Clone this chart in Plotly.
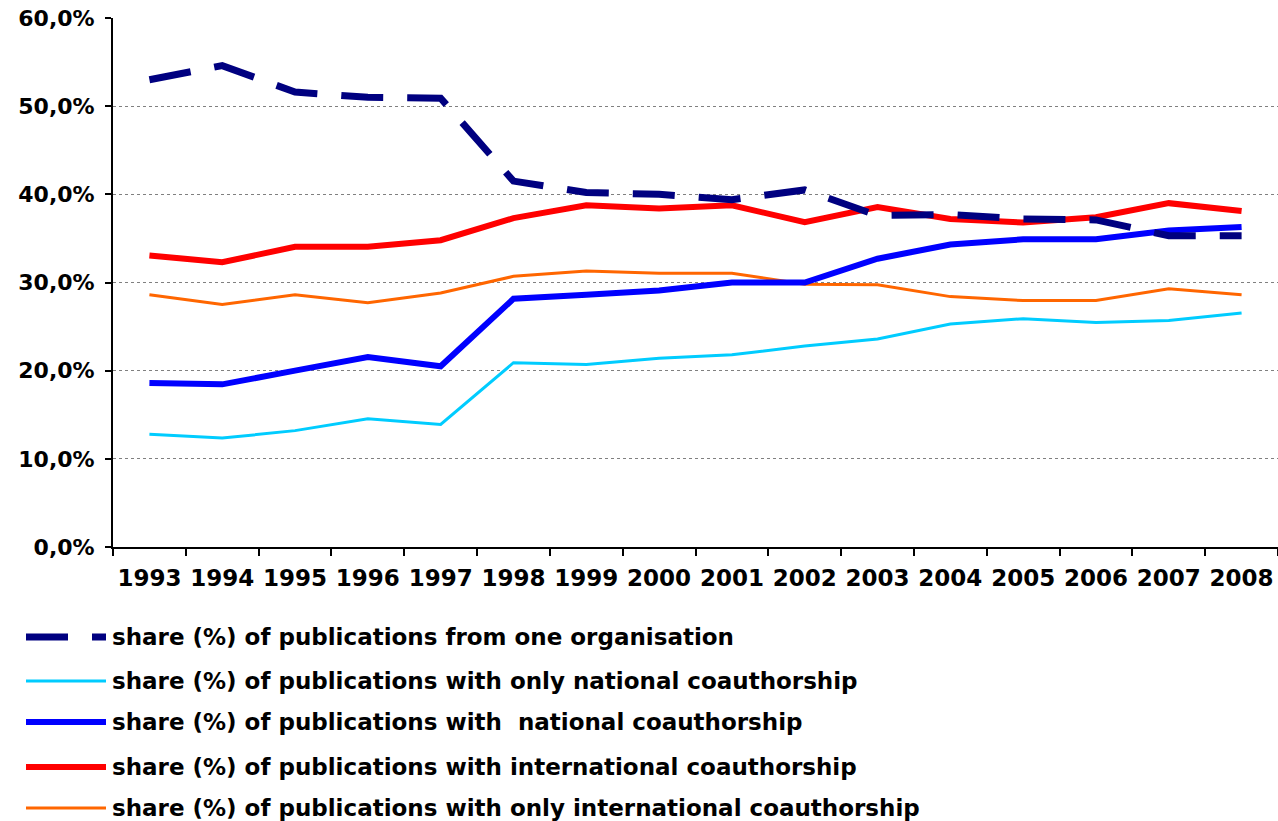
import plotly.graph_objects as go

years = ["1993", "1994", "1995", "1996", "1997", "1998", "1999", "2000",
         "2001", "2002", "2003", "2004", "2005", "2006", "2007", "2008"]

one_org = [53.0, 54.6, 51.6, 51.0, 50.9, 41.5, 40.2, 40.0, 39.4, 40.5, 37.6, 37.7, 37.2, 37.1, 35.3, 35.3]
only_national = [12.8, 12.35, 13.2, 14.55, 13.9, 20.9, 20.7, 21.4, 21.8, 22.8, 23.6, 25.3, 25.9, 25.45, 25.7, 26.55]
national = [18.6, 18.45, 20.0, 21.55, 20.5, 28.15, 28.6, 29.1, 30.0, 30.0, 32.7, 34.3, 34.9, 34.9, 35.9, 36.3]
international = [33.07, 32.3, 34.05, 34.05, 34.8, 37.3, 38.75, 38.4, 38.75, 36.85, 38.55, 37.2, 36.8, 37.4, 39.0, 38.1]
only_international = [28.6, 27.5, 28.6, 27.7, 28.8, 30.7, 31.3, 31.05, 31.05, 29.8, 29.75, 28.4, 27.95, 27.95, 29.3, 28.6]

names = [
    "share (%) of publications from one organisation",
    "share (%) of publications with only national coauthorship",
    "share (%) of publications with  national coauthorship",
    "share (%) of publications with international coauthorship",
    "share (%) of publications with only international coauthorship",
]
series = [one_org, only_national, national, international, only_international]
colors = ["#000080", "#00CCFF", "#0000FF", "#FF0000", "#FF6600"]
widths = [7, 3, 6, 6, 3]
dashes = ["42px,24px", "solid", "solid", "solid", "solid"]

FONT = "DejaVu Sans"
W, H = 1278, 821
L, R, T, B = 113, 0, 18, 274
pw, ph = W - L - R, H - T - B

fig = go.Figure()
order = [4, 1, 2, 3, 0]
for i in order:
    fig.add_trace(go.Scatter(
        x=years, y=series[i], mode="lines", name=names[i],
        line=dict(color=colors[i], width=widths[i], dash=dashes[i]),
        showlegend=False,
    ))

# manual legend with long sample lines like the original
legend_y_px = [637, 681, 722, 767, 808]
for i, yp in enumerate(legend_y_px):
    yy = (H - B - yp) / ph
    fig.add_shape(type="line", xref="paper", yref="paper",
                  x0=(26 - L) / pw, x1=(106 - L) / pw, y0=yy, y1=yy,
                  line=dict(color=colors[i], width=widths[i],
                            dash=dashes[i]))
    fig.add_annotation(xref="paper", yref="paper", x=(110 - L) / pw, y=yy,
                       text=names[i].replace("  ", "&nbsp; "), showarrow=False,
                       xanchor="left", yanchor="middle",
                       font=dict(family=FONT, size=23, color="black", weight="bold"))

fig.update_layout(
    width=W, height=H,
    margin=dict(l=L, r=R, t=T, b=B, pad=0, autoexpand=False),
    paper_bgcolor="white", plot_bgcolor="white",
    separators=",.",
    showlegend=False,
    font=dict(family=FONT, color="black"),
)
fig.update_xaxes(
    type="category", range=[-0.5, 15.5], automargin=False,
    showline=True, linecolor="black", linewidth=2,
    ticks="outside", ticklen=7, tickwidth=2, tickcolor="black",
    tickson="boundaries", showgrid=False, tickangle=0,
    ticklabelstandoff=9,
    tickfont=dict(family=FONT, size=23, color="black", weight="bold"),
)
fig.update_yaxes(
    range=[0, 60], dtick=10, tick0=0, automargin=False,
    tickformat=".1f", ticksuffix="%",
    showline=True, linecolor="black", linewidth=2,
    ticks="outside", ticklen=6, tickwidth=2, tickcolor="black",
    showgrid=True, gridcolor="#808080", gridwidth=1, griddash="dot",
    zeroline=False,
    ticklabelstandoff=6,
    tickfont=dict(family=FONT, size=22, color="black", weight="bold"),
)

fig.write_html("out.html", config={"displayModeBar": False},
               post_script="document.body.style.margin='0';document.body.style.overflow='hidden';")
